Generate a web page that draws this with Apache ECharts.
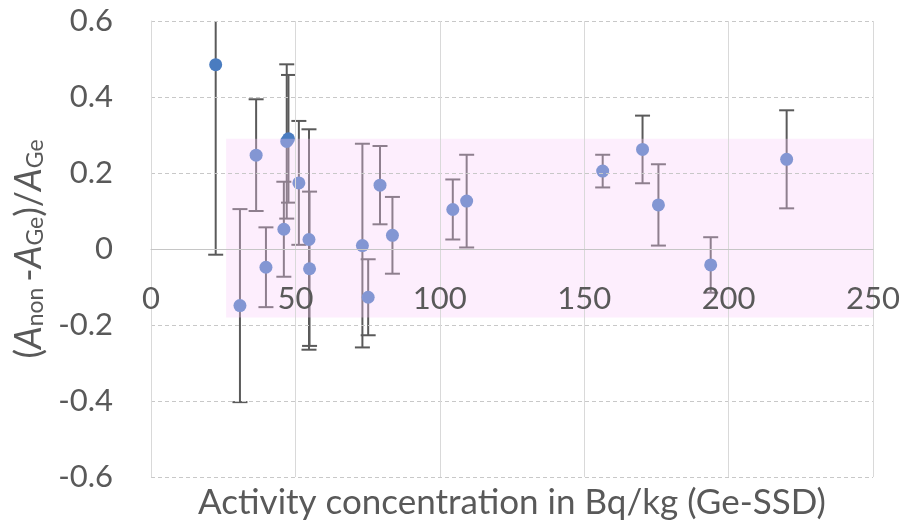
<!DOCTYPE html>
<html>
<head>
<meta charset="utf-8">
<title>Relative deviation vs activity concentration</title>
<script src="https://cdn.jsdelivr.net/npm/echarts@6/dist/echarts.min.js"></script>
<style>
  html, body { margin: 0; padding: 0; background: #ffffff; }
  #chart { width: 906px; height: 531px; }
</style>
</head>
<body>
<div id="chart"></div>
<script>
// Activity concentration (Bq/kg, Ge-SSD)
const activity = [22.4, 30.8, 36.4, 39.8, 46.0, 47.0, 47.6, 51.2, 54.7, 54.9,
                  73.2, 75.2, 79.3, 83.6, 104.5, 109.3, 156.4, 170.2, 175.7, 193.8, 220.1];
// Relative deviation (A_non - A_Ge) / A_Ge
const deviation = [0.485, -0.149, 0.247, -0.048, 0.052, 0.283, 0.290, 0.174, 0.025, -0.052,
                   0.009, -0.127, 0.168, 0.036, 0.104, 0.126, 0.205, 0.262, 0.116, -0.042, 0.236];
// Symmetric uncertainty of each deviation
const uncertainty = [0.500, 0.254, 0.147, 0.105, 0.125, 0.203, 0.168, 0.163, 0.290, 0.203,
                     0.268, 0.100, 0.103, 0.101, 0.079, 0.122, 0.043, 0.089, 0.107, 0.073, 0.129];
// Shaded acceptance band
const bandX = [26, 250];
const bandY = [-0.18, 0.29];

const yMin = -0.6, yMax = 0.6;
const FONT = 'Lato';
const TEXT = '#595959';

const points = activity.map((x, i) => [x, deviation[i]]);
const bars = activity.map((x, i) => [x, deviation[i] - uncertainty[i], deviation[i] + uncertainty[i]]);

const chart = echarts.init(document.getElementById('chart'), null, { renderer: 'canvas' });

chart.setOption({
  animation: false,
  backgroundColor: '#ffffff',
  grid: { left: 151, right: 33, top: 21, bottom: 54, containLabel: false, outerBoundsMode: 'none' },
  xAxis: {
    type: 'value',
    min: 0, max: 250, interval: 50,
    z: 11,
    axisLine: { show: true, onZero: true, lineStyle: { color: '#c6c6c6', width: 1 } },
    axisTick: { show: false },
    // tick labels sit just under the zero line
    axisLabel: { color: TEXT, fontFamily: FONT, fontSize: 31, margin: -194 },
    splitLine: { show: true, lineStyle: { color: '#d9d9d9', width: 1 } },
    name: 'Activity concentration in Bq/kg (Ge-SSD)',
    nameLocation: 'middle',
    nameGap: 8,
    nameTextStyle: { color: TEXT, fontFamily: FONT, fontSize: 35 }
  },
  yAxis: {
    type: 'value',
    min: yMin, max: yMax, interval: 0.2,
    z: 11,
    axisLine: { show: true, lineStyle: { color: '#d9d9d9', width: 1 } },
    axisTick: { show: false },
    axisLabel: {
      color: TEXT, fontFamily: FONT, fontSize: 31, margin: 38,
      formatter: v => String(Math.round(v * 10) / 10)
    },
    splitLine: { show: true, lineStyle: { color: '#c8c8c8', width: 1, type: [4, 3] } },
    name: '{p|(}{a|A}{s|non }{p|-}{a|A}{s|Ge}{p|)/}{a|A}{s|Ge}',
    nameLocation: 'middle',
    nameRotate: 90,
    nameGap: 101,
    nameTextStyle: {
      color: TEXT, fontFamily: FONT, fontSize: 36,
      rich: {
        p: { color: TEXT, fontFamily: FONT, fontSize: 36 },
        a: { color: TEXT, fontFamily: FONT, fontSize: 36, fontStyle: 'italic' },
        s: { color: TEXT, fontFamily: FONT, fontSize: 23, verticalAlign: 'bottom', lineHeight: 23 }
      }
    }
  },
  series: [
    {
      // vertical error bars with end caps
      type: 'custom',
      z: 2,
      data: bars,
      encode: { x: 0, y: [1, 2] },
      renderItem: function (params, api) {
        const x = api.value(0);
        const lo = api.value(1);
        const hi = api.value(2);
        const top = api.coord([x, Math.min(hi, yMax)]);
        const bot = api.coord([x, Math.max(lo, yMin)]);
        const half = 7.5;
        const style = { stroke: '#5a5a5a', lineWidth: 2, fill: null };
        const children = [
          { type: 'line', shape: { x1: top[0], y1: top[1], x2: bot[0], y2: bot[1] }, style: style }
        ];
        if (hi <= yMax) {
          children.push({ type: 'line', shape: { x1: top[0] - half, y1: top[1], x2: top[0] + half, y2: top[1] }, style: style });
        }
        if (lo >= yMin) {
          children.push({ type: 'line', shape: { x1: bot[0] - half, y1: bot[1], x2: bot[0] + half, y2: bot[1] }, style: style });
        }
        return { type: 'group', children: children };
      }
    },
    {
      type: 'scatter',
      z: 3,
      data: points,
      symbol: 'circle',
      symbolSize: 13,
      itemStyle: { color: '#4a7cc0', opacity: 1 },
      markArea: {
        silent: true,
        z: 10,
        itemStyle: { color: 'rgba(249, 203, 249, 0.33)' },
        data: [[{ coord: [bandX[0], bandY[1]] }, { coord: [bandX[1], bandY[0]] }]]
      }
    }
  ]
});
</script>
</body>
</html>
